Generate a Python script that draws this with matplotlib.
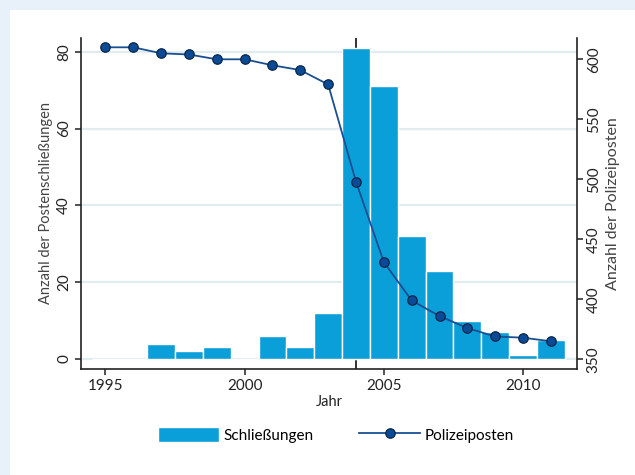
import matplotlib
matplotlib.use('Agg')
import matplotlib.pyplot as plt
from matplotlib.patches import Rectangle

plt.rcParams['font.family'] = ['Lato', 'DejaVu Sans']

# data
jahre = [1995, 1996, 1997, 1998, 1999, 2000, 2001, 2002, 2003,
         2004, 2005, 2006, 2007, 2008, 2009, 2010, 2011]
schliessungen = [0, 0, 4, 2, 3, 0, 6, 3, 12,
                 81, 71, 32, 23, 10, 7, 1, 5]
polizeiposten = [610, 610, 605, 604, 600, 600, 595, 591, 579,
                 498, 431, 399, 386, 376, 369, 368, 365]
x_ticks = [1995, 2000, 2005, 2010]
y_left_ticks = [0, 20, 40, 60, 80]
y_right_ticks = [350, 400, 450, 500, 550, 600]

bar_color = '#0b9fd9'
line_color = '#1a4f91'
marker_face = '#0b4a96'
grid_color = '#e1ecee'

fig = plt.figure(figsize=(6.35, 4.75), dpi=100, facecolor='#e8f0fa')
fig.patches.append(Rectangle((10 / 635, 0), 1, 1 - 10 / 475, transform=fig.transFigure,
                             facecolor='white', edgecolor='none', zorder=-10))

ax = fig.add_axes([81 / 635, 1 - 369 / 475, (577 - 81) / 635, (369 - 38) / 475])
ax.set_facecolor('white')

# vertical reference line at 2004, sits behind the bars
ax.axvline(2004, color='#222222', lw=1.3, zorder=0.5)

bars = ax.bar(jahre, schliessungen, width=1.0, color=bar_color,
              edgecolor='white', linewidth=1.0, zorder=2, label='Schließungen')

ax.set_xlim(1994.12, 2011.94)
ax.set_ylim(-2.6, 83.6)
ax.set_yticks(y_left_ticks)
ax.set_xticks(x_ticks)
ax.grid(axis='y', color=grid_color, lw=1.6, zorder=0)
ax.set_axisbelow(True)

ax2 = ax.twinx()
line, = ax2.plot(jahre, polizeiposten, color=line_color, lw=1.3, marker='o',
                 markersize=6.8, markerfacecolor=marker_face,
                 markeredgecolor='#0a2748', markeredgewidth=0.9,
                 zorder=3, label='Polizeiposten')
ax2.set_ylim(341.9, 617.75)
ax2.set_yticks(y_right_ticks)

for a in (ax, ax2):
    a.spines['top'].set_visible(False)
    for s in ('left', 'right', 'bottom'):
        a.spines[s].set_linewidth(1.2)
        a.spines[s].set_color('#222222')
    a.tick_params(direction='out', length=4, width=1.1, colors='#222222',
                  labelsize=11, pad=3)

ax.spines['right'].set_visible(False)
ax2.spines['left'].set_visible(False)
ax2.spines['bottom'].set_visible(False)

for lab in ax.get_yticklabels():
    lab.set_rotation(90)
    lab.set_va('center')
for lab in ax2.get_yticklabels():
    lab.set_rotation(90)
    lab.set_va('center')

ax.set_xlabel('Jahr', fontsize=10.5, color='#222222', labelpad=2)
ax.set_ylabel('Anzahl der Postenschließungen', fontsize=10.5, color='#444444', labelpad=3)
ax2.set_ylabel('Anzahl der Polizeiposten', fontsize=11.5, color='#444444', labelpad=4)

fig.legend(handles=[bars, line], labels=['Schließungen', 'Polizeiposten'],
           loc='center', bbox_to_anchor=(336 / 635, 1 - 435 / 475), ncol=2,
           frameon=False, fontsize=11, handlelength=4.0, handleheight=1.1,
           columnspacing=3.0, handletextpad=0.3)

fig.savefig('out.png', dpi=100, facecolor=fig.get_facecolor())
